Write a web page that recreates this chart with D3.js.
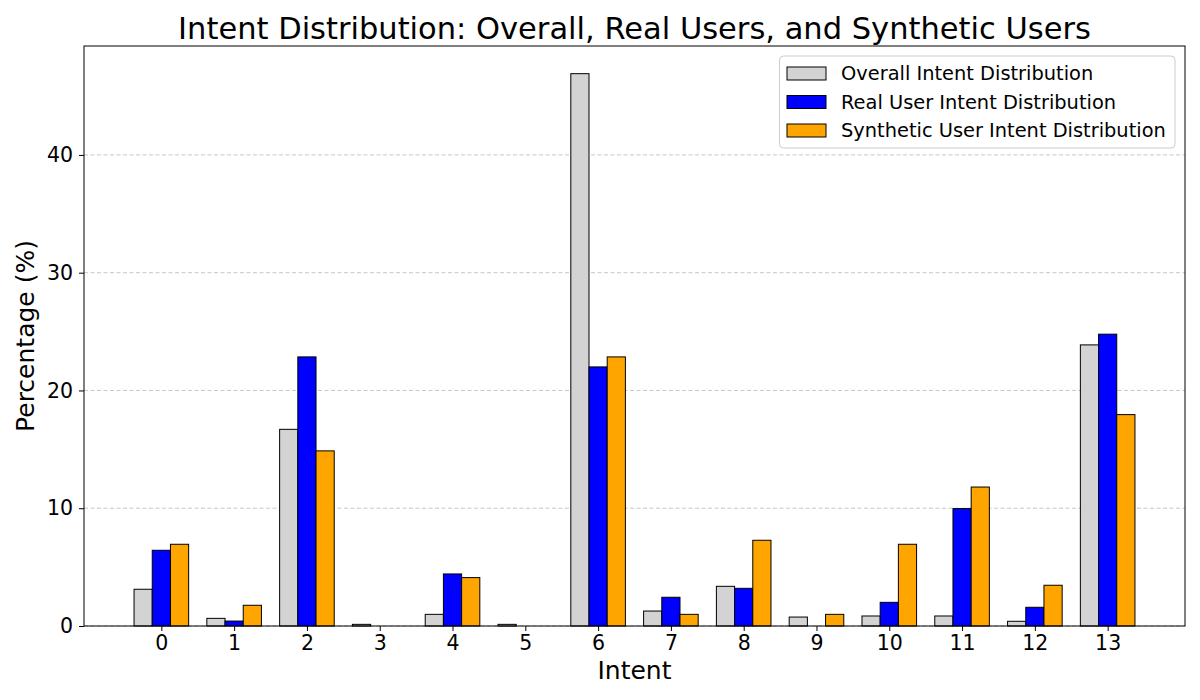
<!DOCTYPE html>
<html><head><meta charset="utf-8">
<script src="https://cdn.jsdelivr.net/npm/d3@7"></script>
<style>body{margin:0;background:#fff}svg{display:block;font-family:"DejaVu Sans",sans-serif}</style>
</head><body><svg id="c" width="1200" height="700"></svg>
<script>
const categories = [0,1,2,3,4,5,6,7,8,9,10,11,12,13];
const overall   = [3.12,0.65,16.7,0.14,0.99,0.14,46.9,1.27,3.37,0.76,0.85,0.85,0.4,23.87];
const realUser  = [6.43,0.42,22.85,0,4.42,0,22.0,2.44,3.2,0,2.01,9.97,1.59,24.78];
const synthUser = [6.94,1.76,14.87,0,4.11,0,22.85,0.99,7.28,0.99,6.94,11.8,3.46,17.95];
const yTicks = [0,10,20,30,40];
const seriesNames = ["Overall Intent Distribution","Real User Intent Distribution","Synthetic User Intent Distribution"];
const seriesColors = ["#d3d3d3","#0000ff","#ffa500"];
const series = [overall, realUser, synthUser];

const svg = d3.select("#c");
const L=84, R=1185, T=46, B=626;
const x = d3.scaleLinear().domain([-1.0625,14.0625]).range([L,R]);
const y = d3.scaleLinear().domain([0,49.25]).range([B,T]);
const bw = 0.25;

// grid
svg.append("g").selectAll("line").data(yTicks).join("line")
  .attr("x1",L).attr("x2",R).attr("y1",d=>y(d)).attr("y2",d=>y(d))
  .attr("stroke","#b0b0b0").attr("stroke-opacity",0.7).attr("stroke-dasharray","4,2.5").attr("stroke-width",1);

// bars
series.forEach((s,i)=>{
  svg.append("g").selectAll("rect").data(s).join("rect")
    .attr("x",(d,j)=>x(categories[j]+(i-1)*bw-bw/2))
    .attr("width",x(bw)-x(0))
    .attr("y",d=>y(d)).attr("height",d=>y(0)-y(d))
    .attr("fill",seriesColors[i]).attr("stroke","#000").attr("stroke-width",1);
});

// axes
const xa = svg.append("g").attr("transform",`translate(0,${B})`)
  .call(d3.axisBottom(x).tickValues(categories).tickFormat(d3.format("d")).tickSize(5).tickPadding(4));
const ya = svg.append("g").attr("transform",`translate(${L},0)`)
  .call(d3.axisLeft(y).tickValues(yTicks).tickSize(5).tickPadding(6));
[xa,ya].forEach(a=>{a.select(".domain").remove();a.selectAll("text").attr("font-size",20.5).attr("fill","#000").attr("font-family","DejaVu Sans");a.selectAll("line").attr("stroke","#000");});
svg.append("rect").attr("x",L).attr("y",T).attr("width",R-L).attr("height",B-T).attr("fill","none").attr("stroke","#000").attr("stroke-width",1);

// labels
svg.append("text").attr("x",(L+R)/2).attr("y",39).attr("text-anchor","middle").attr("font-size",30.5).text("Intent Distribution: Overall, Real Users, and Synthetic Users");
svg.append("text").attr("x",(L+R)/2).attr("y",679).attr("text-anchor","middle").attr("font-size",25).text("Intent");
svg.append("text").attr("transform",`translate(34,${(T+B)/2}) rotate(-90)`).attr("text-anchor","middle").attr("font-size",25).text("Percentage (%)");

// legend
const lg = svg.append("g");
lg.append("rect").attr("x",779.5).attr("y",56).attr("width",395.5).attr("height",92).attr("rx",4)
  .attr("fill","#fff").attr("fill-opacity",0.8).attr("stroke","#ccc");
seriesNames.forEach((n,i)=>{
  const yy = 73.5+i*28.5;
  lg.append("rect").attr("x",787).attr("y",yy-6.5).attr("width",39).attr("height",13)
    .attr("fill",seriesColors[i]).attr("stroke","#000");
  lg.append("text").attr("x",841).attr("y",yy+6.5).attr("font-size",19.4).text(n);
});
</script></body></html>
